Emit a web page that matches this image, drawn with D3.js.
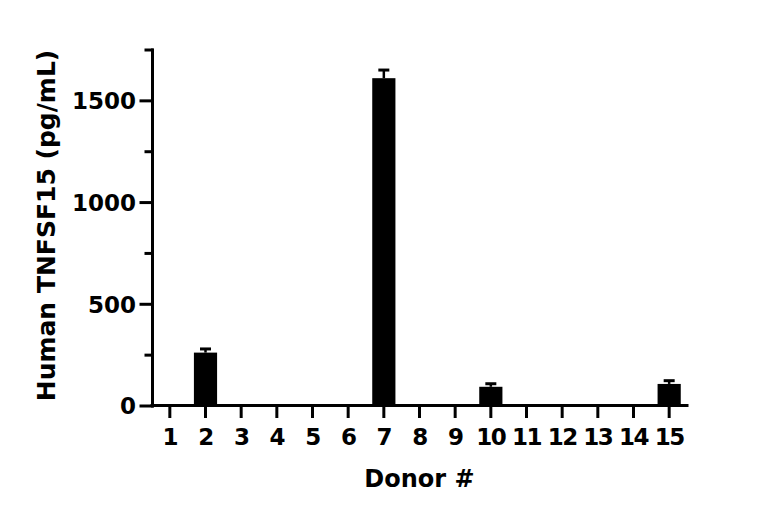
<!DOCTYPE html>
<html>
<head>
<meta charset="utf-8">
<script src="https://cdn.jsdelivr.net/npm/d3@7.9.0/dist/d3.min.js"></script>
<style>
  body { margin: 0; background: #fff; }
  svg text { font-family: "DejaVu Sans", sans-serif; font-weight: bold; fill: #000; }
</style>
</head>
<body>
<svg id="chart" width="768" height="520"></svg>
<script>
// Donor numbers and measured TNFSF15 (pg/mL), mean and error
const donors = ['1', '2', '3', '4', '5', '6', '7', '8', '9', '10', '11', '12', '13', '14', '15'];
const values = [0, 260, 0, 0, 0, 0, 1609, 0, 0, 92, 0, 0, 0, 0, 106];
const errors = [0, 18, 0, 0, 0, 0, 40, 0, 0, 15, 0, 0, 0, 0, 16];
const majorTicks = [0, 500, 1000, 1500];
const minorTicks = [250, 750, 1250, 1750];

const data = donors.map((d, i) => ({ donor: d, value: values[i], err: errors[i] }));

const svg = d3.select('#chart');
const plotLeft = 152, plotRight = 687, plotTop = 49.5, plotBottom = 405.5;

const x = d3.scaleBand().domain(donors).range([plotLeft, plotRight])
  .paddingInner(0.35).paddingOuter(0.175);
const y = d3.scaleLinear().domain([0, 1750]).range([plotBottom, plotTop]);

// Bars
svg.append('g')
  .selectAll('rect')
  .data(data.filter((d) => d.value > 0))
  .enter()
  .append('rect')
  .attr('x', (d) => x(d.donor))
  .attr('width', x.bandwidth())
  .attr('y', (d) => y(d.value))
  .attr('height', (d) => y(0) - y(d.value))
  .attr('fill', '#000');

// Error bars (upper only)
const eb = svg.append('g').attr('stroke', '#000').attr('stroke-width', 2.5);
data.filter((d) => d.err > 0).forEach((d) => {
  const cx = x(d.donor) + x.bandwidth() / 2;
  eb.append('line')
    .attr('x1', cx).attr('x2', cx)
    .attr('y1', y(d.value)).attr('y2', y(d.value + d.err));
  eb.append('line')
    .attr('x1', cx - 5.5).attr('x2', cx + 5.5)
    .attr('y1', y(d.value + d.err)).attr('y2', y(d.value + d.err))
    .attr('stroke-width', 3);
});

// Y axis: minor ticks, then major ticks with labels
const yMinor = svg.append('g')
  .attr('transform', `translate(${plotLeft},0)`)
  .call(d3.axisLeft(y).tickValues(minorTicks).tickSize(6).tickSizeOuter(0).tickFormat(''));
yMinor.select('.domain').remove();

const yAxis = svg.append('g')
  .attr('transform', `translate(${plotLeft},0)`)
  .call(d3.axisLeft(y).tickValues(majorTicks).tickFormat(d3.format('d'))
    .tickSize(11).tickSizeOuter(0).tickPadding(5));
yAxis.selectAll('text').style('font-size', '23px').attr('dy', '0.36em');

// X axis
const xAxis = svg.append('g')
  .attr('transform', `translate(0,${plotBottom})`)
  .call(d3.axisBottom(x).tickSize(11).tickSizeOuter(0));
xAxis.select('.domain').attr('d', `M${plotLeft},0H${plotRight}`);
xAxis.selectAll('text')
  .style('font-size', '23px')
  .style('letter-spacing', '-1.5px')
  .attr('y', 39.5).attr('dy', 0);

svg.selectAll('.domain, .tick line')
  .attr('stroke', '#000')
  .attr('stroke-width', 3)
  .attr('stroke-linecap', 'square');

// Axis titles
svg.append('text')
  .attr('transform', 'translate(55,225.5) rotate(-90)')
  .attr('text-anchor', 'middle')
  .style('font-size', '25px')
  .text('Human TNFSF15 (pg/mL)');

svg.append('text')
  .attr('x', (plotLeft + plotRight) / 2)
  .attr('y', 487)
  .attr('text-anchor', 'middle')
  .style('font-size', '24px')
  .text('Donor #');
</script>
</body>
</html>
